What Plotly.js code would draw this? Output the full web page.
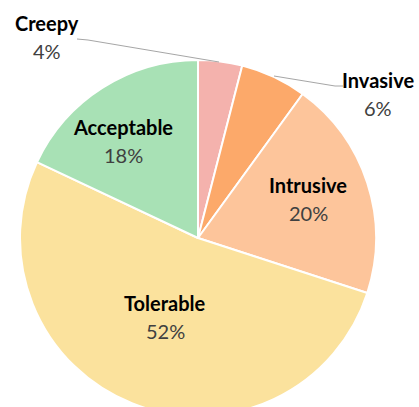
<!DOCTYPE html>
<html>
<head>
<meta charset="utf-8">
<script src="https://cdn.plot.ly/plotly-3.0.1.min.js"></script>
<style>
html,body{margin:0;padding:0;overflow:hidden;background:#fff;width:419px;height:407px;}
#chart{width:419px;height:420px;}
</style>
</head>
<body>
<div id="chart"></div>
<script>
const categories = ["Creepy", "Invasive", "Intrusive", "Tolerable", "Acceptable"];
const values = [4, 6, 20, 52, 18];
const colors = ["#f4b2ad", "#fca96a", "#fdc59b", "#fbe29d", "#a8e1b5"];

// label anchor positions in pixels (name line centre), for layout only
const W = 419, H = 420;
const labelPos = [[47, 23], [378, 80], [308, 185], [165, 303], [123, 127]];

const anns = [];
categories.forEach((c, i) => {
  const [px, py] = labelPos[i];
  anns.push({xref: "paper", yref: "paper", x: px / W, y: 1 - py / H, text: "<b>" + c + "</b>",
    showarrow: false, xanchor: "center", yanchor: "middle",
    font: {family: "Lato, 'Open Sans', sans-serif", size: 20, color: "#000000"}});
  anns.push({xref: "paper", yref: "paper", x: px / W, y: 1 - (py + 28) / H, text: values[i] + "%",
    showarrow: false, xanchor: "center", yanchor: "middle",
    font: {family: "Lato, 'Open Sans', sans-serif", size: 20, color: "#404040"}});
});

function pth(pts) {
  return pts.map((p, k) => (k ? "L" : "M") + (p[0] / W) + "," + (1 - p[1] / H)).join(" ");
}
const shapes = [
  {type: "path", xref: "paper", yref: "paper", path: pth([[77, 39], [88, 40], [219, 62]]), line: {color: "#a6a6a6", width: 1}},
  {type: "path", xref: "paper", yref: "paper", path: pth([[274, 76], [335, 86], [343, 86]]), line: {color: "#a6a6a6", width: 1}}
];

const trace = {
  type: "pie",
  labels: categories,
  values: values,
  sort: false,
  direction: "clockwise",
  rotation: 0,
  textinfo: "none",
  hoverinfo: "label+percent",
  marker: {colors: colors, line: {color: "#ffffff", width: 2}},
  domain: {x: [20 / W, 376 / W], y: [1 - 416 / H, 1 - 60 / H]},
  showlegend: false
};

Plotly.newPlot("chart", [trace], {
  width: W, height: H,
  margin: {l: 0, r: 0, t: 0, b: 0},
  paper_bgcolor: "#ffffff",
  showlegend: false,
  annotations: anns,
  shapes: shapes
}, {displayModeBar: false, staticPlot: true});
</script>
</body>
</html>
